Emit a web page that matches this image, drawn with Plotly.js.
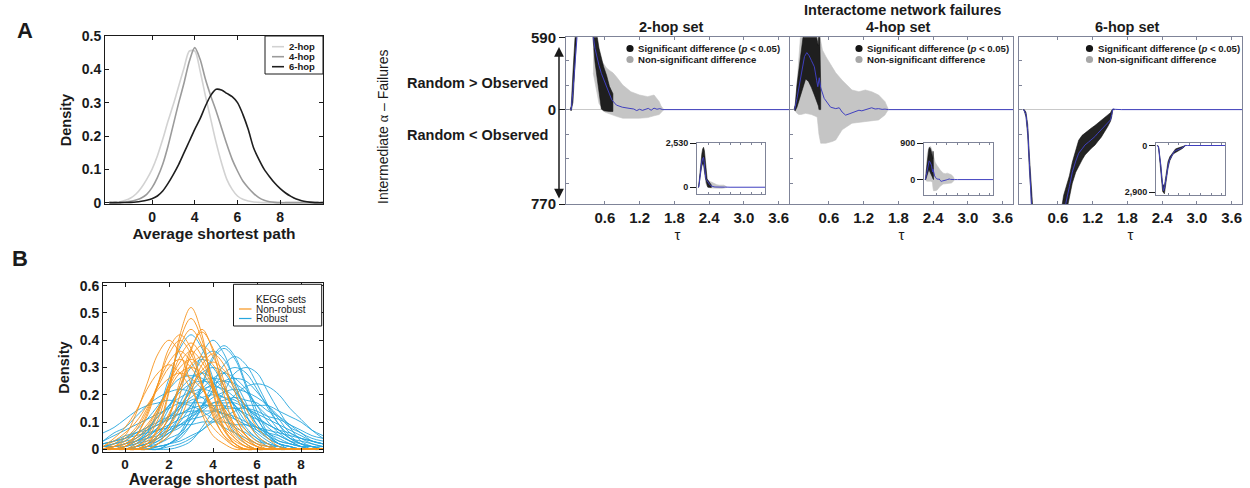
<!DOCTYPE html>
<html><head><meta charset="utf-8">
<script src="https://cdn.plot.ly/plotly-3.0.1.min.js"></script>
<style>html,body{margin:0;padding:0;background:#fff}#chart{width:1250px;height:488px}</style>
</head><body><div id="chart"></div>
<script>
// ---------- Panel A: density of average shortest path (axis units; tick labels as printed) ----------
const aX = [-2,-1.75,-1.5,-1.25,-1,-0.75,-0.5,-0.25,0,0.25,0.5,0.75,1,1.25,1.5,1.75,2,2.25,2.5,2.75,3,3.25,3.5,3.75,4,4.25,4.5,4.75,5,5.25,5.5,5.75,6,6.25,6.5,6.75,7,7.25,7.5,7.75,8];
const a2hop = [0,0.001,0.003,0.007,0.014,0.026,0.045,0.07,0.10,0.14,0.19,0.245,0.295,0.35,0.405,0.455,0.455,0.395,0.32,0.25,0.18,0.12,0.07,0.04,0.02,0.01,0.005,0.002,0.001,0,0,0,0,0,0,0,0,0,0,0,0];
const a4hop = [0,0,0.001,0.002,0.004,0.008,0.014,0.025,0.045,0.075,0.115,0.17,0.235,0.30,0.36,0.425,0.465,0.43,0.37,0.32,0.275,0.225,0.175,0.13,0.095,0.065,0.045,0.028,0.015,0.007,0.003,0.001,0,0,0,0,0,0,0,0,0];
const a6hop = [0,0,0,0.0005,0.001,0.002,0.004,0.007,0.012,0.02,0.035,0.058,0.085,0.115,0.15,0.185,0.22,0.252,0.29,0.322,0.34,0.338,0.328,0.318,0.30,0.265,0.22,0.165,0.13,0.10,0.078,0.058,0.042,0.029,0.019,0.011,0.006,0.003,0.001,0,0];
const aSeriesNames = ['2-hop','4-hop','6-hop'];
const aTickVals = [0,2,4,6];
const aTickText = ['0','4','6','8'];

// ---------- Panel B: KEGG set densities ----------
const bX = [-1,-0.5,0,0.5,1,1.5,2,2.5,3,3.5,4,4.5,5,5.5,6,6.5,7,7.5,8,8.5,9];
const nonRobustCurves = [
 [0,0,0,0,0.02,0.07,0.21,0.42,0.52,0.42,0.21,0.07,0.02,0,0,0,0,0,0,0,0],
 [0,0,0,0,0.02,0.08,0.22,0.40,0.48,0.40,0.22,0.08,0.02,0,0,0,0,0,0,0,0],
 [0,0,0.01,0.05,0.12,0.24,0.37,0.42,0.37,0.24,0.12,0.05,0.01,0,0,0,0,0,0,0,0],
 [0,0.02,0.05,0.13,0.24,0.35,0.40,0.35,0.24,0.13,0.05,0.02,0,0,0,0,0,0,0,0,0],
 [0,0,0,0.01,0.04,0.11,0.24,0.38,0.44,0.38,0.24,0.11,0.04,0.01,0,0,0,0,0,0,0],
 [0,0,0,0,0.01,0.05,0.12,0.25,0.37,0.43,0.37,0.25,0.12,0.05,0.01,0,0,0,0,0,0],
 [0,0,0.02,0.05,0.13,0.24,0.35,0.40,0.35,0.24,0.13,0.05,0.02,0,0,0,0,0,0,0,0],
 [0,0,0,0,0.02,0.05,0.12,0.23,0.34,0.38,0.34,0.23,0.12,0.05,0.02,0,0,0,0,0,0],
 [0,0,0,0.02,0.05,0.13,0.24,0.34,0.39,0.34,0.24,0.13,0.05,0.02,0,0,0,0,0,0,0],
 [0,0.01,0.03,0.07,0.14,0.24,0.32,0.36,0.32,0.24,0.14,0.07,0.03,0.01,0,0,0,0,0,0,0],
 [0,0,0.01,0.03,0.07,0.14,0.24,0.32,0.36,0.32,0.24,0.14,0.07,0.03,0.01,0,0,0,0,0,0],
 [0,0,0,0,0,0.02,0.05,0.11,0.21,0.31,0.35,0.31,0.21,0.11,0.05,0.02,0,0,0,0,0],
 [0,0,0.01,0.04,0.08,0.15,0.23,0.30,0.33,0.30,0.23,0.15,0.08,0.04,0.01,0,0,0,0,0,0],
 [0,0.01,0.04,0.08,0.15,0.23,0.30,0.33,0.30,0.23,0.15,0.08,0.04,0.01,0,0,0,0,0,0,0],
 [0,0,0,0.01,0.03,0.07,0.13,0.23,0.31,0.34,0.31,0.23,0.13,0.07,0.03,0.01,0,0,0,0,0],
 [0.01,0.04,0.08,0.14,0.22,0.28,0.31,0.28,0.22,0.14,0.08,0.04,0.01,0,0,0,0,0,0,0,0],
 [0,0.01,0.02,0.05,0.09,0.15,0.22,0.28,0.30,0.28,0.22,0.15,0.09,0.05,0.02,0.01,0,0,0,0,0],
 [0,0,0,0,0.01,0.04,0.08,0.15,0.23,0.29,0.32,0.29,0.23,0.15,0.08,0.04,0.01,0,0,0,0],
 [0.01,0.03,0.06,0.10,0.16,0.22,0.26,0.28,0.26,0.22,0.16,0.10,0.06,0.03,0.01,0,0,0,0,0,0],
 [0,0,0,0,0,0.02,0.08,0.20,0.36,0.44,0.36,0.20,0.08,0.02,0,0,0,0,0,0,0]
];
const robustCurves = [
 [0,0,0,0,0,0.02,0.05,0.13,0.24,0.35,0.40,0.35,0.24,0.13,0.05,0.02,0,0,0,0,0],
 [0,0,0,0,0,0.01,0.02,0.06,0.14,0.24,0.34,0.38,0.34,0.24,0.14,0.06,0.02,0.01,0,0,0],
 [0,0,0,0.02,0.06,0.14,0.26,0.37,0.42,0.37,0.26,0.14,0.06,0.02,0,0,0,0,0,0,0],
 [0,0,0,0,0,0,0.02,0.04,0.09,0.16,0.24,0.31,0.34,0.31,0.24,0.16,0.09,0.04,0.02,0,0],
 [0,0,0,0.01,0.04,0.08,0.15,0.23,0.30,0.33,0.30,0.23,0.15,0.08,0.04,0.01,0,0,0,0,0],
 [0,0,0,0.01,0.02,0.05,0.09,0.15,0.22,0.28,0.30,0.28,0.22,0.15,0.09,0.05,0.02,0.01,0,0,0],
 [0,0,0,0,0,0.01,0.02,0.05,0.09,0.15,0.22,0.28,0.30,0.28,0.22,0.15,0.09,0.05,0.02,0.01,0],
 [0,0,0,0,0.01,0.03,0.06,0.10,0.16,0.22,0.26,0.28,0.26,0.22,0.16,0.10,0.06,0.03,0.01,0,0],
 [0,0,0.01,0.03,0.06,0.10,0.16,0.22,0.26,0.28,0.26,0.22,0.16,0.10,0.06,0.03,0.01,0,0,0,0],
 [0,0,0.01,0.02,0.04,0.06,0.11,0.16,0.21,0.25,0.26,0.25,0.21,0.16,0.11,0.06,0.04,0.02,0.01,0,0],
 [0,0,0,0,0.01,0.02,0.04,0.06,0.11,0.16,0.21,0.25,0.26,0.25,0.21,0.16,0.11,0.06,0.04,0.02,0.01],
 [0.01,0.02,0.04,0.07,0.11,0.16,0.22,0.26,0.27,0.26,0.22,0.16,0.11,0.07,0.04,0.02,0.01,0,0,0,0],
 [0,0,0,0.01,0.02,0.04,0.07,0.12,0.16,0.21,0.24,0.25,0.24,0.21,0.16,0.12,0.07,0.04,0.02,0.01,0],
 [0,0,0,0,0,0,0.01,0.02,0.04,0.07,0.11,0.15,0.20,0.23,0.24,0.23,0.20,0.15,0.11,0.07,0.04],
 [0,0.01,0.01,0.03,0.05,0.08,0.12,0.16,0.19,0.22,0.23,0.22,0.19,0.16,0.12,0.08,0.05,0.03,0.01,0.01,0],
 [0.01,0.02,0.03,0.06,0.08,0.12,0.16,0.19,0.21,0.22,0.21,0.19,0.16,0.12,0.08,0.06,0.03,0.02,0.01,0,0],
 [0,0,0,0.01,0.02,0.03,0.06,0.08,0.12,0.16,0.19,0.21,0.22,0.21,0.19,0.16,0.12,0.08,0.06,0.03,0.02],
 [0.01,0.02,0.03,0.04,0.07,0.09,0.12,0.15,0.18,0.19,0.20,0.19,0.18,0.15,0.12,0.09,0.07,0.04,0.03,0.02,0.01],
 [0,0,0.01,0.02,0.03,0.04,0.06,0.09,0.12,0.14,0.17,0.18,0.19,0.18,0.17,0.14,0.12,0.09,0.06,0.04,0.03],
 [0.03,0.05,0.07,0.09,0.11,0.13,0.15,0.17,0.17,0.17,0.15,0.13,0.11,0.09,0.07,0.05,0.03,0.02,0.01,0.01,0],
 [0.01,0.01,0.02,0.03,0.05,0.07,0.09,0.11,0.13,0.15,0.17,0.17,0.17,0.15,0.13,0.11,0.09,0.07,0.05,0.03,0.02],
 [0.02,0.03,0.04,0.06,0.07,0.09,0.11,0.13,0.15,0.16,0.16,0.16,0.15,0.13,0.11,0.09,0.07,0.06,0.04,0.03,0.02],
 [0.01,0.01,0.02,0.03,0.04,0.05,0.07,0.09,0.11,0.12,0.14,0.15,0.15,0.15,0.14,0.12,0.11,0.09,0.07,0.05,0.04],
 [0.03,0.06,0.08,0.12,0.16,0.19,0.21,0.22,0.21,0.19,0.16,0.12,0.08,0.06,0.03,0.02,0.01,0,0,0,0],
 [0.02,0.03,0.04,0.05,0.06,0.07,0.08,0.09,0.09,0.10,0.10,0.10,0.09,0.09,0.08,0.07,0.06,0.05,0.04,0.03,0.02],
 [0,0,0,0,0,0,0,0.01,0.03,0.08,0.14,0.21,0.28,0.30,0.28,0.21,0.14,0.08,0.03,0.01,0],
 [0,0.01,0.02,0.04,0.07,0.12,0.16,0.21,0.24,0.25,0.24,0.21,0.16,0.12,0.07,0.04,0.02,0.01,0,0,0],
 [0,0,0,0.01,0.02,0.04,0.09,0.17,0.25,0.33,0.36,0.33,0.25,0.17,0.09,0.04,0.02,0.01,0,0,0],
 [0,0,0,0,0.01,0.01,0.02,0.03,0.05,0.07,0.10,0.12,0.14,0.16,0.16,0.16,0.14,0.12,0.10,0.07,0.05],
 [0.06,0.08,0.11,0.14,0.16,0.17,0.18,0.17,0.16,0.14,0.11,0.08,0.06,0.04,0.02,0.01,0.01,0,0,0,0],
 [0,0,0,0,0,0,0.02,0.05,0.12,0.23,0.33,0.37,0.33,0.23,0.12,0.05,0.02,0,0,0,0],
 [0.02,0.03,0.05,0.06,0.08,0.10,0.12,0.13,0.14,0.14,0.14,0.13,0.12,0.10,0.08,0.06,0.05,0.03,0.02,0.01,0.01]
];
const bTickVals = [0,2,4,6,8];

// ---------- Right: interactome network failures ----------
const tauTicks = [0.6,1.2,1.8,2.4,3.0,3.6];
const tauTickText = ['0.6','1.2','1.8','2.4','3.0','3.6'];
const failTickVals = [-770,0,590];
const failTickText = ['770','0','590'];
const setTitles = ['2-hop set','4-hop set','6-hop set'];
const insetTickVals = [[0,2530],[0,900],[-2900,0]];
const insetTickText = [['0','2,530'],['0','900'],['2,900','0']];

// 2-hop set
const tau2Mean = [0,0.02,0.05,0.08,0.10,0.15,0.20,0.25,0.30,0.33,0.37,0.40,0.43,0.46,0.50,0.54,0.58,0.63,0.68,0.72,0.80,0.90,1.00,1.10,1.15,1.20,1.25,1.30,1.35,1.40,1.45,1.50,1.55,1.60,1.80,3.80];
const val2Mean = [0,0,150,450,700,1150,1450,1650,1720,1500,900,600,500,430,360,296,245,187,120,80,37,20,12,5,-8,3,-6,4,10,-5,12,3,8,0,0,0];
const tau2Sig = [0,0.02,0.05,0.08,0.10,0.15,0.20,0.25,0.30,0.35,0.38,0.40,0.43,0.46,0.50,0.54,0.58,0.63,0.68,0.74];
const up2Sig = [0,30,300,700,950,1500,1900,2200,2300,2100,1700,1400,1000,620,500,420,350,280,190,130];
const lo2Sig = [0,-10,60,300,500,900,1200,1350,1300,1000,700,560,390,260,130,5,-10,-15,-15,-15];
const tau2Non = [0.40,0.50,0.60,0.63,0.68,0.74,0.80,0.91,1.05,1.20,1.34,1.45,1.54,1.57,1.62];
const up2Non = [500,420,360,340,320,300,268,200,146,119,106,119,65,30,0];
const lo2Non = [300,50,-20,-30,-35,-45,-55,-70,-70,-70,-65,-50,-40,-20,0];

// 4-hop set
const tau4Mean = [0,0.01,0.05,0.095,0.14,0.18,0.22,0.26,0.30,0.35,0.39,0.41,0.435,0.46,0.52,0.58,0.63,0.72,0.78,0.83,0.89,0.95,1.00,1.06,1.12,1.17,1.23,1.29,1.34,1.40,1.46,1.52,1.57,1.63,1.80,3.80];
const val4Mean = [0,0,90,215,330,432,465,440,400,350,240,187,260,180,92,50,20,8,15,-20,-45,-35,-25,-15,-5,-10,0,10,15,5,8,2,4,0,0,0];
const tau4Sig = [0,0.02,0.05,0.10,0.15,0.20,0.25,0.30,0.35,0.40,0.42,0.43,0.44,0.46];
const up4Sig = [0,40,200,420,620,760,800,760,680,560,520,700,700,200];
const lo4Sig = [0,-10,20,80,170,250,230,180,120,60,30,0,0,0];
const tau4Non = [0,0.03,0.08,0.12,0.20,0.30,0.40,0.43,0.46,0.49,0.55,0.66,0.72,0.83,1.00,1.12,1.23,1.34,1.46,1.57,1.60,1.63];
const up4Non = [0,60,400,650,800,820,700,650,560,486,432,350,300,240,160,146,160,146,119,65,30,0];
const lo4Non = [0,-20,-40,-40,-30,-40,-60,-200,-274,-274,-274,-260,-247,-165,-111,-105,-97,-90,-84,-43,-20,0];

// 6-hop set
const tau6Mean = [0,0.02,0.05,0.08,0.11,0.14,0.16,0.20,0.25,0.30,0.35,0.40,0.45,0.50,0.55,0.60,0.65,0.70,0.74,0.80,0.85,0.91,0.96,1.02,1.07,1.13,1.18,1.24,1.29,1.35,1.40,1.46,1.51,1.53,1.55,1.60,1.70,3.80];
const val6Mean = [0,-5,-40,-165,-437,-655,-800,-1300,-2000,-2600,-2800,-2650,-2300,-1900,-1500,-1150,-1000,-850,-760,-628,-510,-420,-356,-320,-288,-265,-247,-220,-193,-165,-138,-110,-84,-40,5,2,0,0];
const tau6Sig = [0,0.02,0.05,0.08,0.11,0.14,0.16,0.20,0.30,0.40,0.50,0.60,0.70,0.74,0.80,0.85,0.91,0.96,1.02,1.07,1.13,1.18,1.24,1.29,1.35,1.40,1.46,1.51,1.53,1.55,1.58];
const up6Sig = [0,0,-20,-120,-380,-600,-740,-1200,-2400,-2500,-1750,-1000,-700,-640,-540,-430,-330,-250,-210,-190,-170,-150,-130,-110,-90,-65,-45,-25,-5,5,0];
const lo6Sig = [0,-10,-60,-210,-500,-710,-860,-1400,-2850,-3000,-2200,-1400,-950,-840,-710,-600,-510,-460,-410,-370,-340,-315,-290,-260,-225,-190,-140,-95,-60,0,0];

// ---------- drawing ----------
const W = 1250, H = 488;
const px = v => v / W;
const py = v => 1 - v / H;
const FONT = 'Liberation Sans, Arial, sans-serif';
const INK = '#1a1a1a';
const FRAME = '#7f8498';
const SIG = 'rgba(18,18,18,0.93)';
const NON = '#c5c5c5';
const MEAN = '#3f3fbf';
const ORANGE = '#F7941D';
const BLUE = '#26A6DE';
const A_COLORS = ['#d2d2d2', '#9b9b9b', '#1e1e1e'];

const traces = [];

// Panel A
[a2hop, a4hop, a6hop].forEach((ys, i) => {
  traces.push({x: aX, y: ys, name: aSeriesNames[i], type: 'scatter', mode: 'lines',
    line: {color: A_COLORS[i], width: 1.6, shape: 'spline', smoothing: 0.8},
    xaxis: 'x', yaxis: 'y', hoverinfo: 'skip'});
});

// Panel B
robustCurves.forEach(ys => traces.push({x: bX, y: ys, type: 'scatter', mode: 'lines', name: 'Robust',
  line: {color: BLUE, width: 0.9, shape: 'spline', smoothing: 1}, xaxis: 'x2', yaxis: 'y2', hoverinfo: 'skip'}));
nonRobustCurves.forEach(ys => traces.push({x: bX, y: ys, type: 'scatter', mode: 'lines', name: 'Non-robust',
  line: {color: ORANGE, width: 0.9, shape: 'spline', smoothing: 1}, xaxis: 'x2', yaxis: 'y2', hoverinfo: 'skip'}));

function band(t, up, lo, color, xa, ya) {
  return {x: t.concat(t.slice().reverse()), y: up.concat(lo.slice().reverse()), type: 'scatter', mode: 'lines',
    fill: 'toself', fillcolor: color, line: {color: color, width: 0.6}, xaxis: xa, yaxis: ya, hoverinfo: 'skip'};
}
function meanLine(t, v, xa, ya) {
  return {x: t, y: v, type: 'scatter', mode: 'lines', line: {color: MEAN, width: 1}, xaxis: xa, yaxis: ya, hoverinfo: 'skip'};
}
const sets = [
  {non: [tau2Non, up2Non, lo2Non], sig: [tau2Sig, up2Sig, lo2Sig], mean: [tau2Mean, val2Mean], main: ['x3','y3'], inset: ['x6','y6']},
  {non: [tau4Non, up4Non, lo4Non], sig: [tau4Sig, up4Sig, lo4Sig], mean: [tau4Mean, val4Mean], main: ['x4','y4'], inset: ['x7','y7']},
  {non: null, sig: [tau6Sig, up6Sig, lo6Sig], mean: [tau6Mean, val6Mean], main: ['x5','y5'], inset: ['x8','y8']}
];
['main', 'inset'].forEach(which => {
  sets.forEach(s => {
    const [xa, ya] = s[which];
    if (s.non) traces.push(band(s.non[0], s.non[1], s.non[2], NON, xa, ya));
    traces.push(band(s.sig[0], s.sig[1], s.sig[2], SIG, xa, ya));
    traces.push(meanLine(s.mean[0], s.mean[1], xa, ya));
  });
});

// axes
const boldTick = size => ({family: FONT, size: size, weight: 'bold', color: INK});
function leftAxis(extra) {
  return Object.assign({showline: true, linecolor: INK, linewidth: 1, mirror: 'allticks', ticks: 'inside', ticklen: 4,
    tickcolor: INK, showgrid: false, zeroline: false, tickfont: boldTick(14), fixedrange: true}, extra);
}
const TAU_RANGE = [-0.07, 3.78];
function rightX(dom, anchor, extra) {
  return Object.assign({domain: dom, anchor: anchor, range: TAU_RANGE, tickvals: tauTicks, ticktext: tauTickText,
    showline: true, linecolor: FRAME, linewidth: 1, mirror: 'allticks', ticks: 'inside', ticklen: 3, tickcolor: FRAME,
    showgrid: false, zeroline: false, tickfont: boldTick(15), fixedrange: true}, extra);
}
function rightY(dom, anchor, extra) {
  return Object.assign({domain: dom, anchor: anchor, range: [-770, 590], tickvals: failTickVals, ticktext: failTickText,
    showline: true, linecolor: FRAME, linewidth: 1, mirror: true, ticks: 'outside', ticklen: 6, tickcolor: INK,
    minor: {tickmode: 'linear', tick0: 0, dtick: 200, ticks: 'inside', ticklen: 3, tickcolor: FRAME},
    showgrid: false, zeroline: true, zerolinecolor: '#c9c9c9', zerolinewidth: 1, tickfont: boldTick(15), fixedrange: true}, extra);
}
function insetX(dom, anchor) {
  return rightX(dom, anchor, {showticklabels: false, ticklen: 2});
}
function insetY(dom, anchor, range, tv, tt) {
  return {domain: dom, anchor: anchor, range: range, tickvals: tv, ticktext: tt, showline: true, linecolor: FRAME,
    linewidth: 1, mirror: true, ticks: 'outside', ticklen: 6, tickcolor: INK, showgrid: false, zeroline: false,
    tickfont: boldTick(9), fixedrange: true};
}
const mainYDom = [py(204), py(37.3)];

const layout = {
  width: W, height: H, margin: {l: 0, r: 0, t: 0, b: 0}, paper_bgcolor: '#fff', plot_bgcolor: '#fff',
  showlegend: false, hovermode: false, font: {family: FONT, color: INK},
  xaxis: leftAxis({domain: [px(105), px(323)], anchor: 'y', range: [-2.2, 8.0], tickvals: aTickVals, ticktext: aTickText,
    title: {text: 'Average shortest path', font: {size: 15.5, weight: 'bold'}, standoff: 2}}),
  yaxis: leftAxis({domain: [py(204), py(36)], anchor: 'x', range: [-0.004, 0.5], tick0: 0, dtick: 0.1,
    title: {text: 'Density', font: {size: 14.5, weight: 'bold'}, standoff: 6}}),
  xaxis2: leftAxis({domain: [px(103), px(323)], anchor: 'y2', range: [-1, 9], tickvals: bTickVals,
    tickfont: boldTick(13.5),
    title: {text: 'Average shortest path', font: {size: 16, weight: 'bold'}, standoff: 2}}),
  yaxis2: leftAxis({domain: [py(452), py(283)], anchor: 'x2', range: [-0.01, 0.61], tick0: 0, dtick: 0.1,
    title: {text: 'Density', font: {size: 14.5, weight: 'bold'}, standoff: 6}}),
  xaxis3: rightX([px(566), px(789)], 'y3', {title: {text: 'τ', font: {size: 15}, standoff: 2}}),
  yaxis3: rightY(mainYDom, 'x3'),
  xaxis4: rightX([px(790), px(1013)], 'y4', {title: {text: 'τ', font: {size: 15}, standoff: 2}}),
  yaxis4: rightY(mainYDom, 'x4', {showticklabels: false, ticks: ''}),
  xaxis5: rightX([px(1019), px(1242)], 'y5', {title: {text: 'τ', font: {size: 15}, standoff: 2}}),
  yaxis5: rightY(mainYDom, 'x5', {showticklabels: false, ticks: ''}),
  xaxis6: insetX([px(697), px(765)], 'y6'),
  yaxis6: insetY([py(194), py(143.3)], 'x6', [-390, 2530], insetTickVals[0], insetTickText[0]),
  xaxis7: insetX([px(924), px(993)], 'y7'),
  yaxis7: insetY([py(194.5), py(143.3)], 'x7', [-370, 900], insetTickVals[1], insetTickText[1]),
  xaxis8: insetX([px(1156), px(1225)], 'y8'),
  yaxis8: insetY([py(195), py(143)], 'x8', [-3070, 155], insetTickVals[2], insetTickText[2]),
  shapes: [], annotations: []
};

const S = layout.shapes, AN = layout.annotations;
function txt(text, x, y, size, opts) {
  AN.push(Object.assign({text: text, x: px(x), y: py(y), xref: 'paper', yref: 'paper', showarrow: false,
    xanchor: 'center', yanchor: 'middle', font: {family: FONT, size: size, color: INK}}, opts || {}));
}
// panel letters
txt('<b>A</b>', 25, 31, 22);
txt('<b>B</b>', 20, 258, 22);

// Panel A legend
S.push({type: 'rect', xref: 'paper', yref: 'paper', x0: px(265), x1: px(323), y0: py(74), y1: py(36),
  line: {color: INK, width: 1}, fillcolor: '#fff'});
[46.7, 56.7, 66.7].forEach((yy, i) => {
  S.push({type: 'line', xref: 'paper', yref: 'paper', x0: px(272), x1: px(284), y0: py(yy), y1: py(yy),
    line: {color: A_COLORS[i], width: 1.6}});
  txt('<b>' + aSeriesNames[i] + '</b>', 287, yy, 9.5, {xanchor: 'left'});
});

// Panel B legend
S.push({type: 'rect', xref: 'paper', yref: 'paper', x0: px(233.5), x1: px(321.7), y0: py(326), y1: py(284.3),
  line: {color: INK, width: 1}, fillcolor: '#fff'});
txt('KEGG sets', 253.5, 299.3, 10, {xanchor: 'left'});
[[309, ORANGE, 'Non-robust'], [318.5, BLUE, 'Robust']].forEach(([yy, c, t]) => {
  S.push({type: 'line', xref: 'paper', yref: 'paper', x0: px(239), x1: px(251.5), y0: py(yy), y1: py(yy),
    line: {color: c, width: 1.2}});
  txt(t, 253.5, yy, 10, {xanchor: 'left'});
});

// right: titles
txt('<b>Interactome network failures</b>', 902, 10, 14.5);
[[671, setTitles[0]], [898, setTitles[1]], [1127.5, setTitles[2]]].forEach(([xx, t]) => txt('<b>' + t + '</b>', xx, 27.5, 14.5));
txt('Intermediate <span style="font-family:Liberation Serif">α</span> – Failures', 383, 127, 14, {textangle: -90});
txt('<b>Random &gt; Observed</b>', 550, 83, 14.5, {xanchor: 'right'});
txt('<b>Random &lt; Observed</b>', 550, 135, 14.5, {xanchor: 'right'});
AN.push({text: '', x: px(559), y: py(47), xref: 'paper', yref: 'paper', ax: 0, ay: 153, showarrow: true,
  arrowhead: 2, startarrowhead: 2, arrowside: 'end+start', arrowsize: 1.3, startarrowsize: 1.3, arrowwidth: 1.5, arrowcolor: INK});

// right legends
[630, 859, 1089.5].forEach(cx => {
  S.push({type: 'circle', xref: 'paper', yref: 'paper', x0: px(cx - 3.6), x1: px(cx + 3.6), y0: py(48.5 + 3.6), y1: py(48.5 - 3.6),
    fillcolor: '#151515', line: {width: 0}});
  S.push({type: 'circle', xref: 'paper', yref: 'paper', x0: px(cx - 3.6), x1: px(cx + 3.6), y0: py(59.5 + 3.6), y1: py(59.5 - 3.6),
    fillcolor: '#a8a8a8', line: {width: 0}});
  txt('<b>Significant difference (<i>p</i> &lt; 0.05)</b>', cx + 6, 48.5, 9.6, {xanchor: 'left'});
  txt('<b>Non-significant difference</b>', cx + 6, 59.5, 9.6, {xanchor: 'left'});
});

Plotly.newPlot('chart', traces, layout, {staticPlot: true, displayModeBar: false});
</script>
</body></html>
